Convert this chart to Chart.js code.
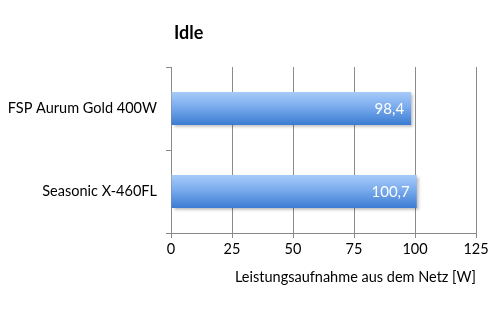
<!DOCTYPE html>
<html>
<head>
<meta charset="utf-8">
<script src="https://cdn.jsdelivr.net/npm/chart.js@4/dist/chart.umd.min.js"></script>
<style>
  html, body { margin: 0; padding: 0; background: #fff; }
  #wrap { width: 500px; height: 320px; }
</style>
</head>
<body>
<div id="wrap"><canvas id="chart" width="500" height="320"></canvas></div>
<script>
// Daten
const labels = ["FSP Aurum Gold 400W", "Seasonic X-460FL"];
const values = [98.4, 100.7];
const xTicks = [0, 25, 50, 75, 100, 125];
const chartTitle = "Idle";
const axisTitle = "Leistungsaufnahme aus dem Netz [W]";

const fontFam = "Lato, 'Open Sans', sans-serif";
const gridColor = "#8a8a8a";

// Verlauf pro Balken (hell oben, dunkel unten)
function barGradient(context) {
  const chart = context.chart;
  const yScale = chart.scales.y;
  if (!chart.chartArea || !yScale) return "#6a9ee6";
  const c = yScale.getPixelForValue(context.dataIndex);
  const h = (yScale.height / labels.length) * 0.4;
  const g = chart.ctx.createLinearGradient(0, c - h / 2, 0, c + h / 2);
  g.addColorStop(0, "#a8cbf9");
  g.addColorStop(0.45, "#7aabed");
  g.addColorStop(1, "#3b7bd2");
  return g;
}

// Titel + Werte in den Balken
const extras = {
  id: "extras",
  beforeDatasetDraw(chart) {
    const ctx = chart.ctx;
    ctx.save();
    ctx.shadowColor = "rgba(0,0,0,0.3)";
    ctx.shadowBlur = 3;
    ctx.shadowOffsetX = 2;
    ctx.shadowOffsetY = 2;
  },
  afterDatasetDraw(chart) {
    chart.ctx.restore();
  },
  afterDraw(chart) {
    const ctx = chart.ctx;
    ctx.save();
    ctx.fillStyle = "#000";
    ctx.font = "bold 18px " + fontFam;
    ctx.textBaseline = "middle";
    ctx.textAlign = "left";
    ctx.fillText(chartTitle, chart.chartArea.left + 3, 33);

    ctx.font = "15px " + fontFam;
    ctx.fillStyle = "#fff";
    ctx.textAlign = "right";
    chart.getDatasetMeta(0).data.forEach((bar, i) => {
      const txt = values[i].toFixed(1).replace(".", ",");
      ctx.fillText(txt, bar.x - 7, bar.y + 1);
    });
    ctx.restore();
  }
};

new Chart(document.getElementById("chart"), {
  type: "bar",
  data: {
    labels: labels,
    datasets: [{
      data: values,
      backgroundColor: barGradient,
      borderWidth: 0,
      categoryPercentage: 1,
      barPercentage: 0.4
    }]
  },
  options: {
    indexAxis: "y",
    responsive: false,
    animation: false,
    layout: { padding: { top: 67, right: 24, bottom: 0, left: 0 } },
    plugins: {
      legend: { display: false },
      tooltip: { enabled: false },
      title: { display: false }
    },
    scales: {
      x: {
        min: 0,
        max: 125,
        afterBuildTicks(scale) { scale.ticks = xTicks.map(v => ({ value: v })); },
        afterFit(scale) { scale.height = 87; },
        grid: { color: gridColor, tickLength: 5, lineWidth: 1 },
        border: { color: gridColor },
        ticks: { color: "#000", font: { family: fontFam, size: 14.5 }, padding: 3 },
        title: {
          display: true,
          text: axisTitle,
          align: "end",
          color: "#000",
          font: { family: fontFam, size: 14.5 },
          padding: { top: 0, bottom: 34 }
        }
      },
      y: {
        afterFit(scale) { scale.width = 171; },
        grid: { drawOnChartArea: false, color: gridColor, tickLength: 5, offset: true },
        border: { color: gridColor },
        ticks: { color: "#000", font: { family: fontFam, size: 14.5 }, padding: 9 }
      }
    }
  },
  plugins: [extras]
});
</script>
</body>
</html>
